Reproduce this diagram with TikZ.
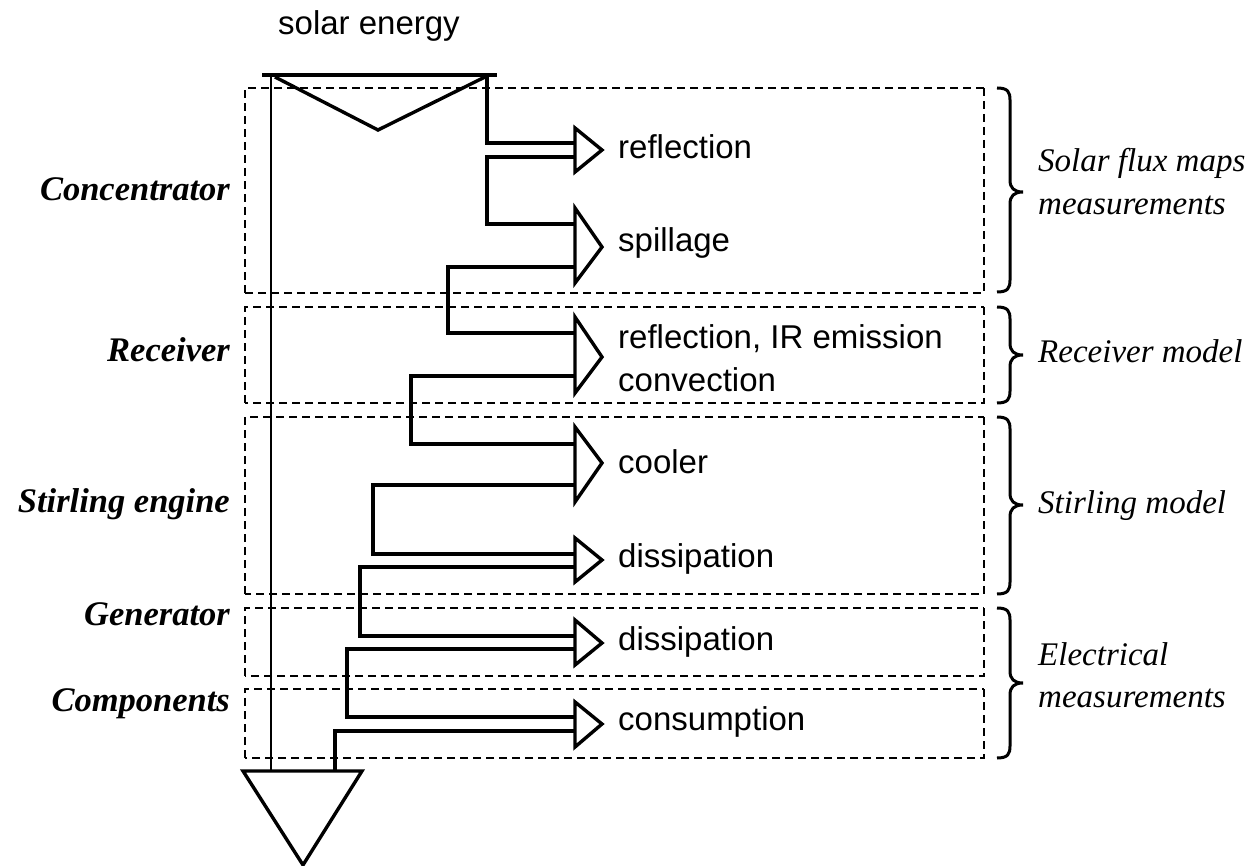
\documentclass[tikz,border=0pt]{standalone}
\usepackage{fontspec}
\setmainfont{Liberation Serif}
\newfontfamily\arialf{Liberation Sans}
\begin{document}
\begin{tikzpicture}[x=1pt,y=-1pt,
  flow/.style={line width=3.4pt,line join=miter},
  thinflow/.style={line width=2.6pt},
  ahead/.style={line width=3.4pt,fill=white,line join=miter},
  dboxthick/.style={line width=2pt,dash pattern=on 8pt off 5pt},
  dboxthin/.style={line width=1.3pt,dash pattern=on 8pt off 5pt},
  brc/.style={line width=3pt},
  sanslab/.style={inner sep=0pt,anchor=base west,font=\arialf\fontsize{33}{40}\selectfont},
  leftlab/.style={inner sep=0pt,anchor=base east,font=\fontsize{34.5}{40}\selectfont\bfseries\itshape},
  rightlab/.style={inner sep=0pt,anchor=base west,font=\fontsize{33}{40}\selectfont\itshape}]
\useasboundingbox (0,0) rectangle (1256,866);

% dashed boxes: top, bottom
\foreach \t/\b in {88/293, 307/403, 417/594, 608/676, 689/758}{
  \draw[dboxthick] (245,\b) -- (245,\t) -- (984,\t);
  \draw[dboxthin] (984,\t) -- (984,\b) -- (245,\b);
}

% braces: top / mid / bottom
\foreach \t/\m/\b in {88/192/292, 307/355/403, 417/505/594, 608/683/758}{
  \draw[brc] (997,\t) .. controls (1008,\t) and (1010,{\t+4}) .. (1010,{\t+12})
    -- (1010,{\m-12}) .. controls (1010,{\m-4}) and (1014,\m) .. (1023,\m)
    .. controls (1014,\m) and (1010,{\m+4}) .. (1010,{\m+12})
    -- (1010,{\b-12}) .. controls (1010,{\b-4}) and (1008,\b) .. (997,\b);
}

% source and sink
\coordinate (srcL) at (262,75);
\coordinate (srcR) at (497,75);
\coordinate (srcA) at (378,130);
\draw[flow] (srcL) -- (srcR);
\draw[flow] (275,77) -- (srcA) -- (485,77);
\coordinate (sinkL) at (243,771);
\coordinate (sinkR) at (362,771);
\coordinate (sinkA) at (303,865);
\draw[flow] (sinkL) -- (sinkR) -- (sinkA) -- cycle;

% left boundary of the flow
\draw[thinflow] (271,75) -- (271,771);

% right boundary of the flow
\draw[flow] (487,75) -- (487,143) -- (575,143);
\draw[flow] (575,157) -- (487,157) -- (487,224) -- (575,224);
\draw[flow] (575,267) -- (448,267) -- (448,333) -- (575,333);
\draw[flow] (575,376) -- (411,376) -- (411,444) -- (575,444);
\draw[flow] (575,485) -- (373,485) -- (373,554) -- (575,554);
\draw[flow] (575,567) -- (360,567) -- (360,636) -- (575,636);
\draw[flow] (575,649) -- (347,649) -- (347,717) -- (575,717);
\draw[flow] (575,731) -- (335,731) -- (335,771);

% arrow heads: top / tip / bottom
\foreach \t/\m/\b in {128/150/172, 208/247/283, 317/357/393, 427/463/502, 538/560/582, 620/643/665, 702/724/747}{
  \draw[ahead] (575,\t) -- (602,\m) -- (575,\b) -- cycle;
}

% texts
\node[sanslab] (sun) at (278,35) {solar energy};
\node[sanslab] (refl) at (618,159) {reflection};
\node[sanslab] (spill) at (618,252) {spillage};
\node[sanslab] (recA) at (618,349) {reflection, IR emission};
\node[sanslab] (recB) at (618,392) {convection};
\node[sanslab] (cool) at (618,473) {cooler};
\node[sanslab] (dissA) at (618,567) {dissipation};
\node[sanslab] (dissB) at (618,650) {dissipation};
\node[sanslab] (cons) at (618,730) {consumption};

\node[leftlab] (conc) at (230,201) {Concentrator};
\node[leftlab] (rece) at (230,362) {Receiver};
\node[leftlab] (stir) at (230,512) {Stirling engine};
\node[leftlab] (gene) at (230,625) {Generator};
\node[leftlab] (comp) at (230,711) {Components};

\node[rightlab] (sfA) at (1038,172) {Solar flux maps};
\node[rightlab] (sfB) at (1038,215) {measurements};
\node[rightlab] (rm) at (1038,363) {Receiver model};
\node[rightlab] (sm) at (1038,513) {Stirling model};
\node[rightlab] (elA) at (1038,665) {Electrical};
\node[rightlab] (elB) at (1038,707) {measurements};
\end{tikzpicture}
\end{document}
